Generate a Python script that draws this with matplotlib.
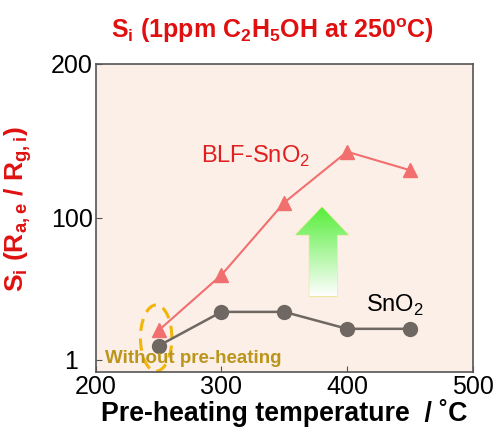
import numpy as np
import matplotlib.pyplot as plt
from matplotlib.patches import Ellipse, Polygon

plt.rcParams['font.family'] = ['Liberation Sans', 'DejaVu Sans']
plt.rcParams['mathtext.fontset'] = 'custom'
plt.rcParams['mathtext.rm'] = 'Liberation Sans'
plt.rcParams['mathtext.bf'] = 'Liberation Sans:bold'

temps = [250, 300, 350, 400, 450]
blf_sno2 = [27, 63, 110, 143, 131]
sno2 = [17, 39, 39, 28, 28]

yticks = [8, 100, 200]
ytick_labels = ['1  ', '100', '200']
xticks = [200, 300, 400, 500]

fig = plt.figure(figsize=(4.94, 4.32), dpi=100)
ax = fig.add_axes([0.194, 0.139, 0.763, 0.713])
ax.set_facecolor('#fbefe7')

ax.plot(temps, blf_sno2, color='#f26f6f', marker='^', markersize=10, lw=1.5)
ax.plot(temps, sno2, color='#6f6862', marker='o', markersize=10, lw=1.8)

# green up arrow with gradient
arrow = [(370, 49), (392, 49), (392, 89), (401, 89), (380, 107), (359, 89), (370, 89)]
poly = Polygon(arrow, closed=True, facecolor='none', edgecolor='#eee8a0', lw=1)
ax.add_patch(poly)
grad = np.linspace(0, 1, 256).reshape(-1, 1)
cols = np.zeros((256, 1, 3))
top = np.array([0.33, 0.93, 0.22])
cols[:, 0, :] = (1 - grad) * np.array([1, 1, 1]) + grad * top
im = ax.imshow(cols, extent=[359, 401, 49, 107], origin='lower', aspect='auto', zorder=1)
im.set_clip_path(poly)

ell = Ellipse((248, 22), 25, 43, fill=False, edgecolor='#f2b50a', lw=2.2, ls=(0, (4, 2.5)), clip_on=False)
ax.add_patch(ell)
ax.text(207, 9, 'Without pre-heating', color='#bb961c', fontsize=13.5, fontweight='bold', va='center')

ax.text(327, 140, 'BLF-SnO$_2$', color='#e02020', fontsize=17, ha='center', va='center')
ax.text(438, 43, 'SnO$_2$', color='black', fontsize=17, ha='center', va='center')

ax.set_xlim(200, 500)
ax.set_ylim(0, 200)
ax.set_xticks(xticks)
ax.set_yticks(yticks)
ax.set_yticklabels(ytick_labels)
ax.tick_params(direction='in', labelsize=18, colors='#555555', labelcolor='black', length=4, pad=2)
for s in ax.spines.values():
    s.set_color('#555555')
    s.set_linewidth(1.2)

ax.set_xlabel('Pre-heating temperature  / ˚C', fontsize=19.3, fontweight='bold', labelpad=0)
ax.set_ylabel('S$_\\mathbf{i}$ (R$_\\mathbf{a,e}$ / R$_\\mathbf{g,i}$)', fontsize=19,
              fontweight='bold', color='#e01010')
ax.yaxis.set_label_coords(-0.165, 0.53)
fig.text(0.551, 0.93, 'S$_\\mathbf{i}$ (1ppm C$_\\mathbf{2}$H$_\\mathbf{5}$OH at 250$^\\mathbf{o}$C)',
         color='#e01010', fontsize=18, fontweight='bold', ha='center', va='center')

fig.savefig('out.png', dpi=100)
